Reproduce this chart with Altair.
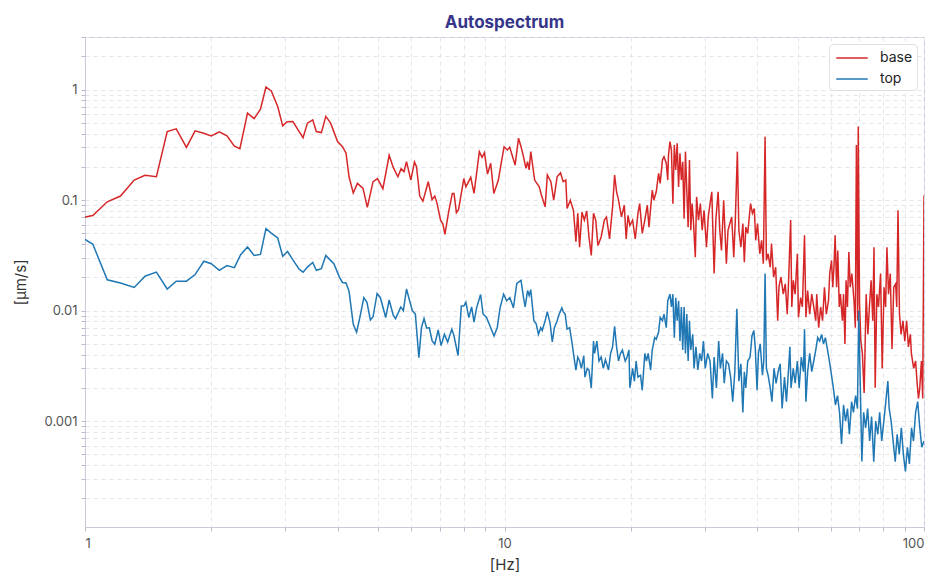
import altair as alt
import pandas as pd

# frequencies [Hz] and amplitudes [um/s]
base_freq = [
    1.0, 1.044, 1.13, 1.215, 1.31, 1.39, 1.48, 1.57, 1.65, 1.745, 1.83, 1.91, 2.0, 2.09, 2.18, 2.27,
    2.34, 2.44, 2.53, 2.62, 2.70, 2.78, 2.88, 2.96, 3.03, 3.13, 3.24, 3.31, 3.39, 3.49, 3.56, 3.66,
    3.75, 3.85, 4.0, 4.11, 4.19, 4.26, 4.36, 4.46, 4.6, 4.71, 4.86, 4.98, 5.13, 5.31, 5.43, 5.57,
    5.67, 5.76, 5.84, 5.98, 6.1, 6.17, 6.28, 6.39, 6.58, 6.72, 6.82, 6.9, 7.04, 7.13, 7.21, 7.37,
    7.51, 7.58, 7.68, 7.77, 8.0, 8.09, 8.31, 8.46, 8.71, 8.84, 8.96, 9.11, 9.27, 9.43, 9.67, 9.80,
    9.98, 10.16, 10.29, 10.6, 10.8, 10.95, 11.1, 11.25, 11.35, 11.45, 11.55, 11.8, 12.1, 12.25, 12.5, 12.65,
    12.9, 13.1, 13.35, 13.6, 13.8, 14.0, 14.1, 14.35, 14.6, 14.8, 14.95, 15.1, 15.3, 15.5, 15.7, 15.9,
    16.1, 16.3, 16.5, 16.7, 17.0, 17.3, 17.5, 17.8, 18.1, 18.3, 18.5, 18.7, 19.0, 19.3, 19.5, 19.7,
    19.9, 20.2, 20.5, 20.8, 21.0, 21.3, 21.6, 21.9, 22.1, 22.5, 22.7, 23.0, 23.3, 23.5, 23.8, 24.0,
    24.3, 24.5, 24.6, 24.8, 25.0, 25.2, 25.4, 25.6, 25.8, 26.0, 26.2, 26.4, 26.6, 26.8, 27.0, 27.2,
    27.4, 27.6, 27.8, 28.0, 28.2, 28.5, 28.7, 29.0, 29.3, 29.6, 29.9, 30.3, 30.6, 30.9, 31.2, 31.6,
    31.9, 32.3, 32.6, 32.9, 33.3, 33.8, 34.1, 34.8, 35.2, 35.5, 35.9, 36.2, 36.6, 37.0, 37.3, 37.6,
    38.0, 38.6, 39.0, 39.4, 39.7, 40.1, 40.6, 41.0, 41.4, 41.8, 42.1, 42.5, 43.0, 43.3, 43.8, 44.3,
    44.8, 45.1, 45.6, 46.2, 46.7, 47.2, 47.5, 48.1, 48.4, 48.8, 49.3, 49.9, 50.2, 50.8, 51.3, 51.9,
    52.3, 52.8, 53.4, 54.0, 54.6, 55.2, 55.5, 56.1, 56.7, 57.3, 57.9, 58.5, 59.2, 59.6, 60.2, 60.6,
    61.0, 61.4, 61.9, 62.3, 62.8, 63.2, 63.9, 64.3, 64.8, 65.2, 65.7, 66.2, 66.7, 67.3, 68.1, 68.6,
    69.0, 69.5, 69.7, 70.2, 70.7, 71.3, 72.0, 72.8, 73.5, 74.1, 74.8, 75.5, 76.0, 76.5, 77.2, 77.9,
    78.8, 79.5, 80.3, 81.0, 81.6, 82.3, 83.1, 83.9, 84.7, 85.6, 86.1, 86.7, 87.4, 88.2, 89.1, 90.0,
    90.9, 91.8, 92.8, 93.3, 94.5, 95.5, 96.3, 97.0, 97.7, 98.6, 99.3, 100.0,
]
base_amp = [
    0.0705, 0.0725, 0.0966, 0.109, 0.152, 0.168, 0.163, 0.418, 0.442, 0.30, 0.424, 0.406, 0.382, 0.415, 0.382, 0.308,
    0.293, 0.614, 0.548, 0.667, 1.057, 0.973, 0.705, 0.471, 0.512, 0.515, 0.418, 0.368, 0.498, 0.533, 0.418, 0.409,
    0.573, 0.498, 0.339, 0.305, 0.266, 0.163, 0.116, 0.142, 0.128, 0.086, 0.147, 0.157, 0.127, 0.255, 0.198, 0.163,
    0.193, 0.181, 0.223, 0.152, 0.222, 0.201, 0.109, 0.098, 0.147, 0.101, 0.109, 0.095, 0.066, 0.061, 0.049, 0.081,
    0.115, 0.115, 0.077, 0.082, 0.157, 0.132, 0.161, 0.115, 0.275, 0.244, 0.269, 0.172, 0.216, 0.115, 0.152, 0.208,
    0.305, 0.285, 0.301, 0.208, 0.364, 0.305, 0.247, 0.194, 0.223, 0.188, 0.275, 0.152, 0.132, 0.111, 0.087, 0.169,
    0.147, 0.100, 0.163, 0.177, 0.147, 0.152, 0.084, 0.100, 0.081, 0.042, 0.076, 0.0375, 0.078, 0.066, 0.080, 0.0464,
    0.0316, 0.076, 0.066, 0.0388, 0.0464, 0.066, 0.0705, 0.0445, 0.087, 0.169, 0.119, 0.100, 0.0705, 0.090, 0.0445, 0.073,
    0.059, 0.066, 0.0445, 0.076, 0.093, 0.050, 0.066, 0.090, 0.057, 0.123, 0.100, 0.119, 0.175, 0.142, 0.231, 0.247,
    0.216, 0.152, 0.256, 0.339, 0.285, 0.093, 0.316, 0.188, 0.328, 0.132, 0.266, 0.152, 0.223, 0.068, 0.275, 0.123,
    0.057, 0.231, 0.0534, 0.093, 0.066, 0.0305, 0.107, 0.066, 0.093, 0.0534, 0.081, 0.0375, 0.0705, 0.093, 0.119, 0.0217,
    0.066, 0.119, 0.0534, 0.0351, 0.100, 0.0266, 0.0534, 0.0705, 0.0305, 0.066, 0.275, 0.0534, 0.0375, 0.0614, 0.0275, 0.057,
    0.050, 0.093, 0.076, 0.084, 0.0433, 0.0614, 0.0327, 0.0433, 0.0266, 0.376, 0.0285, 0.0327, 0.0247, 0.0405, 0.0201, 0.0247,
    0.0081, 0.0163, 0.0201, 0.0141, 0.0175, 0.0093, 0.0163, 0.066, 0.0108, 0.0188, 0.0141, 0.0327, 0.0087, 0.0131, 0.0108, 0.048,
    0.0087, 0.0152, 0.0093, 0.0141, 0.0108, 0.0081, 0.0141, 0.0070, 0.0108, 0.0081, 0.0163, 0.0093, 0.0123, 0.0217, 0.0285, 0.0163,
    0.0247, 0.048, 0.0163, 0.0351, 0.0108, 0.0141, 0.0081, 0.0141, 0.0050, 0.0188, 0.0108, 0.0339, 0.0163, 0.0217, 0.0123, 0.0070,
    0.316, 0.0081, 0.464, 0.0116, 0.0053, 0.0041, 0.0018, 0.0141, 0.0061, 0.0108, 0.0188, 0.0081, 0.0375, 0.0020, 0.0141, 0.0108,
    0.0217, 0.0030, 0.0163, 0.0108, 0.0375, 0.0141, 0.0217, 0.0045, 0.0163, 0.0175, 0.0108, 0.081, 0.0093, 0.0061, 0.0081, 0.0053,
    0.0081, 0.0047, 0.0061, 0.0041, 0.0030, 0.0035, 0.0022, 0.0016, 0.0020, 0.0035, 0.0016, 0.11,
]

top_freq = [
    1.0, 1.044, 1.13, 1.215, 1.31, 1.39, 1.48, 1.57, 1.65, 1.745, 1.83, 1.92, 2.0, 2.09, 2.18, 2.27,
    2.35, 2.44, 2.53, 2.62, 2.70, 2.78, 2.88, 2.96, 3.04, 3.13, 3.24, 3.31, 3.39, 3.49, 3.56, 3.66,
    3.75, 3.85, 3.92, 4.04, 4.11, 4.19, 4.26, 4.36, 4.44, 4.52, 4.62, 4.70, 4.79, 4.86, 4.97, 5.06,
    5.21, 5.31, 5.43, 5.5, 5.66, 5.74, 5.84, 5.94, 6.03, 6.13, 6.25, 6.34, 6.43, 6.52, 6.62, 6.72,
    6.82, 6.95, 7.06, 7.19, 7.32, 7.49, 7.58, 7.75, 7.89, 8.0, 8.09, 8.22, 8.35, 8.46, 8.58, 8.77,
    8.89, 9.06, 9.23, 9.44, 9.61, 9.76, 9.95, 10.12, 10.3, 10.5, 10.7, 10.95, 11.1, 11.2, 11.35, 11.45,
    11.55, 11.75, 11.9, 12.05, 12.2, 12.3, 12.5, 12.65, 12.85, 13.0, 13.15, 13.35, 13.5, 13.7, 13.8, 13.95,
    14.1, 14.3, 14.5, 14.6, 14.8, 14.95, 15.1, 15.25, 15.45, 15.55, 15.75, 15.9, 16.1, 16.3, 16.4, 16.6,
    16.8, 17.0, 17.2, 17.4, 17.7, 17.9, 18.1, 18.3, 18.5, 18.7, 18.9, 19.1, 19.4, 19.6, 19.8, 19.9,
    20.2, 20.4, 20.6, 20.8, 21.1, 21.3, 21.6, 21.8, 22.0, 22.3, 22.5, 22.8, 23.0, 23.3, 23.5, 23.8,
    24.0, 24.3, 24.5, 24.8, 25.0, 25.2, 25.4, 25.6, 25.8, 26.0, 26.2, 26.4, 26.6, 26.8, 27.0, 27.2,
    27.4, 27.6, 27.8, 28.1, 28.3, 28.6, 28.9, 29.2, 29.5, 29.8, 30.1, 30.5, 30.9, 31.3, 31.6, 32.0,
    32.4, 32.7, 33.1, 33.4, 33.8, 34.2, 34.6, 35.0, 35.4, 35.8, 36.2, 36.6, 37.0, 37.3, 37.6, 38.0,
    38.5, 38.9, 39.3, 39.6, 40.0, 40.3, 40.7, 41.2, 41.5, 41.8, 42.1, 42.5, 43.0, 43.4, 43.9, 44.4,
    44.9, 45.4, 45.9, 46.5, 47.0, 47.5, 47.9, 48.2, 48.8, 49.3, 49.9, 50.4, 51.0, 51.6, 51.9, 52.3,
    52.8, 53.4, 54.0, 54.6, 55.2, 55.8, 56.4, 57.0, 57.6, 58.2, 58.9, 59.5, 60.2, 60.8, 61.5, 62.2,
    62.9, 63.6, 64.3, 65.0, 65.7, 66.4, 67.2, 67.9, 68.7, 69.4, 69.9, 70.3, 71.1, 71.8, 72.6, 73.4,
    74.2, 75.0, 75.9, 76.7, 77.6, 78.4, 79.3, 80.2, 81.1, 82.0, 82.6, 83.5, 84.4, 85.4, 86.3, 87.3,
    88.3, 89.3, 90.3, 91.3, 92.3, 93.4, 94.4, 95.5, 96.6, 97.7, 98.8, 100.0,
]
top_amp = [
    0.0442, 0.0399, 0.019, 0.0178, 0.0162, 0.0205, 0.0223, 0.0157, 0.0185, 0.0185, 0.0212, 0.028, 0.0266, 0.0232, 0.0256, 0.0245,
    0.0321, 0.0377, 0.0316, 0.0323, 0.0552, 0.0504, 0.0455, 0.0311, 0.0343, 0.0288, 0.0237, 0.0223, 0.0248, 0.0273, 0.0232, 0.0240,
    0.0316, 0.0285, 0.0266, 0.0201, 0.0180, 0.0178, 0.0150, 0.00753, 0.00637, 0.00866, 0.0131, 0.0119, 0.00822, 0.0088, 0.0143, 0.0131,
    0.00866, 0.0125, 0.0091, 0.00847, 0.0108, 0.0100, 0.0157, 0.0123, 0.0100, 0.00934, 0.00375, 0.00704, 0.00847, 0.00697, 0.0070, 0.00534,
    0.00496, 0.00669, 0.00482, 0.00612, 0.00519, 0.0068, 0.00589, 0.00392, 0.0110, 0.0110, 0.0119, 0.00866, 0.0108, 0.00787, 0.0106, 0.0140,
    0.00933, 0.00866, 0.00731, 0.00589, 0.00704, 0.0106, 0.0141, 0.0123, 0.0131, 0.0106, 0.0176, 0.0188, 0.0131, 0.0108, 0.0152, 0.0137,
    0.0155, 0.0081, 0.0076, 0.0061, 0.0070, 0.0066, 0.0081, 0.0098, 0.0076, 0.0052, 0.0070, 0.0081, 0.0093, 0.0106, 0.0098, 0.0093,
    0.0068, 0.0070, 0.0050, 0.0041, 0.0029, 0.0038, 0.0035, 0.0030, 0.0039, 0.0025, 0.0030, 0.0029, 0.0020, 0.0053, 0.0041, 0.0053,
    0.0035, 0.0038, 0.0030, 0.0036, 0.0029, 0.0041, 0.0047, 0.0072, 0.0047, 0.0035, 0.0041, 0.0044, 0.0035, 0.0038, 0.0044, 0.0020,
    0.0030, 0.0023, 0.0035, 0.0025, 0.0026, 0.0019, 0.0041, 0.0035, 0.0041, 0.0029, 0.0044, 0.0057, 0.0055, 0.0064, 0.0087, 0.0081,
    0.0093, 0.0070, 0.0123, 0.0141, 0.0108, 0.0141, 0.0057, 0.0131, 0.0081, 0.0123, 0.0053, 0.0108, 0.0044, 0.0108, 0.0041, 0.0093,
    0.0035, 0.0081, 0.0044, 0.0061, 0.0030, 0.0047, 0.0029, 0.0041, 0.0035, 0.0053, 0.0030, 0.0041, 0.0035, 0.0016, 0.0038, 0.0020,
    0.0053, 0.0030, 0.0041, 0.0022, 0.0035, 0.0033, 0.0025, 0.0015, 0.0028, 0.0104, 0.0023, 0.0033, 0.0012, 0.0028, 0.0020, 0.0035,
    0.0038, 0.0059, 0.0066, 0.0047, 0.0019, 0.0041, 0.0050, 0.0026, 0.0035, 0.0217, 0.0030, 0.0026, 0.0020, 0.0015, 0.0030, 0.0022,
    0.0028, 0.0033, 0.0013, 0.0025, 0.0015, 0.0028, 0.0047, 0.0020, 0.0030, 0.0022, 0.0035, 0.0020, 0.0038, 0.0028, 0.0068, 0.0015,
    0.0028, 0.0041, 0.0028, 0.0035, 0.0044, 0.0057, 0.0053, 0.0061, 0.0050, 0.0057, 0.0044, 0.0035, 0.0026, 0.0020, 0.0014, 0.0017,
    0.0012, 0.00062, 0.0014, 0.0010, 0.0013, 0.00076, 0.0015, 0.0012, 0.0017, 0.0013, 0.0100, 0.0035, 0.00043, 0.0012, 0.00087, 0.0013,
    0.00066, 0.0011, 0.00043, 0.0010, 0.00076, 0.0012, 0.00066, 0.0010, 0.0015, 0.0023, 0.0013, 0.0010, 0.00066, 0.00043, 0.00076, 0.0005,
    0.00087, 0.0005, 0.00035, 0.00058, 0.00041, 0.00087, 0.00066, 0.0012, 0.0015, 0.00087, 0.00058, 0.00066,
]

series_names = ["base", "top"]
series_colors = ["#d62728", "#1f77b4"]

x_ticks = [1, 2, 3, 4, 5, 6, 7, 8, 9, 10, 20, 30, 40, 50, 60, 70, 80, 90, 100]
y_ticks = [
    0.0002, 0.0003, 0.0004, 0.0005, 0.0006, 0.0007, 0.0008, 0.0009,
    0.001, 0.002, 0.003, 0.004, 0.005, 0.006, 0.007, 0.008, 0.009,
    0.01, 0.02, 0.03, 0.04, 0.05, 0.06, 0.07, 0.08, 0.09,
    0.1, 0.2, 0.3, 0.4, 0.5, 0.6, 0.7, 0.8, 0.9,
    1, 2, 3,
]

df = pd.concat(
    [
        pd.DataFrame({"freq": base_freq, "amp": base_amp, "series": "base"}),
        pd.DataFrame({"freq": top_freq, "amp": top_amp, "series": "top"}),
    ],
    ignore_index=True,
)

# only label the decades
decade_label = (
    "abs(log(datum.value)/LN10 - round(log(datum.value)/LN10)) < 1e-6"
    " ? format(datum.value, '~g') : ''"
)

axis_style = dict(
    grid=True,
    gridColor="#e4e4ea",
    gridDash=[4, 4],
    gridWidth=1,
    domainColor="#c8cadc",
    tickColor="#b8bacc",
    tickSize=4,
    labelColor="#555555",
    labelFontSize=13,
    labelFont="Inter",
    titleFont="Inter",
    titleFontSize=15,
    titleFontWeight="normal",
    titleColor="#333333",
    labelExpr=decade_label,
)

chart = (
    alt.Chart(df, title=alt.Title("Autospectrum"))
    .mark_line(strokeWidth=1.5, clip=True)
    .encode(
        x=alt.X(
            "freq:Q",
            title="[Hz]",
            scale=alt.Scale(type="log", domain=[1, 100]),
            axis=alt.Axis(values=x_ticks, labelPadding=6, titlePadding=7, **axis_style),
        ),
        y=alt.Y(
            "amp:Q",
            title="[µm/s]",
            scale=alt.Scale(type="log", domain=[0.00011, 3]),
            axis=alt.Axis(values=y_ticks, labelPadding=4, titlePadding=16, **axis_style),
        ),
        color=alt.Color(
            "series:N",
            scale=alt.Scale(domain=series_names, range=series_colors),
            legend=alt.Legend(
                title=None,
                orient="top-right",
                offset=7,
                padding=4,
                strokeColor="#e0e0e0",
                fillColor="white",
                cornerRadius=4,
                symbolType="M-1.75,0H1.75",
                symbolSize=324,
                symbolOffset=9,
                symbolStrokeWidth=1.5,
                labelFont="Inter",
                labelFontSize=14,
                labelColor="#222222",
                labelOffset=18,
                rowPadding=4,
            ),
        ),
        order=alt.Order("freq:Q"),
    )
    .properties(width=839, height=490)
    .configure_title(
        font="Inter",
        fontSize=17,
        fontWeight="bold",
        color="#35358a",
        anchor="middle",
        offset=5,
    )
    .configure_view(stroke="#c8cadc", strokeWidth=1)
)

chart.save("out.html", embed_options={"renderer": "svg", "actions": False})
